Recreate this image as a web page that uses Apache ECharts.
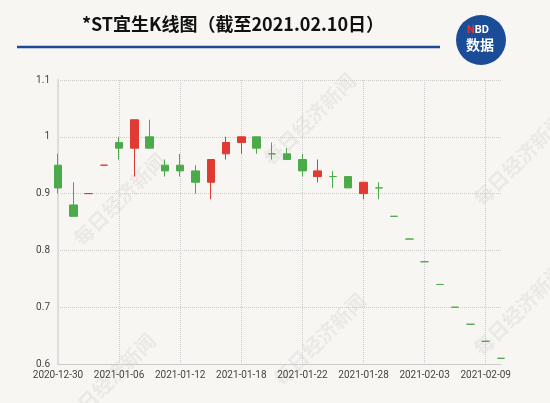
<!DOCTYPE html>
<html>
<head>
<meta charset="utf-8">
<script src="https://cdn.jsdelivr.net/npm/echarts@6/dist/echarts.min.js"></script>
<style>html,body{margin:0;padding:0;background:#f8f6f2;}#main{width:550px;height:403px;}</style>
</head>
<body>
<div id="main"></div>
<script>
var dates = ['2020-12-30','2020-12-31','2021-01-04','2021-01-05','2021-01-06','2021-01-07','2021-01-08','2021-01-11','2021-01-12','2021-01-13','2021-01-14','2021-01-15','2021-01-18','2021-01-19','2021-01-20','2021-01-21','2021-01-22','2021-01-25','2021-01-26','2021-01-27','2021-01-28','2021-01-29','2021-02-01','2021-02-02','2021-02-03','2021-02-04','2021-02-05','2021-02-08','2021-02-09','2021-02-10'];
// open, close, low, high
var opens  = [0.95,0.88,0.90,0.95,0.99,0.98,1.00,0.95,0.95,0.94,0.92,0.97,0.99,1.00,0.97,0.97,0.96,0.93,0.93,0.93,0.90,0.91,0.86,0.82,0.78,0.74,0.70,0.67,0.64,0.61];
var closes = [0.91,0.86,0.90,0.95,0.98,1.03,0.98,0.94,0.94,0.92,0.96,0.99,1.00,0.98,0.97,0.96,0.94,0.94,0.93,0.91,0.92,0.91,0.86,0.82,0.78,0.74,0.70,0.67,0.64,0.61];
var lows   = [0.90,0.86,0.90,0.95,0.96,0.93,0.98,0.93,0.93,0.90,0.89,0.96,0.97,0.97,0.96,0.96,0.93,0.92,0.91,0.91,0.89,0.89,0.86,0.82,0.78,0.74,0.70,0.67,0.64,0.61];
var highs  = [0.97,0.92,0.90,0.95,1.00,1.03,1.03,0.96,0.97,0.95,0.96,1.00,1.00,1.00,0.99,0.98,0.97,0.96,0.94,0.93,0.92,0.92,0.86,0.82,0.78,0.74,0.70,0.67,0.64,0.61];
var yTicks = [0.6, 0.7, 0.8, 0.9, 1, 1.1];

var kData = [];
for (var i = 0; i < dates.length; i++) {
    var up = closes[i] > opens[i] || (closes[i] == opens[i] && i > 0 && closes[i] > closes[i - 1]);
    var c = up ? '#e03a32' : '#4daa4a';
    kData.push({
        value: [opens[i], closes[i], lows[i], highs[i]],
        itemStyle: {color: c, color0: c, borderColor: c, borderColor0: c}
    });
}

var marks = [];
var wpos = [[70, 150], [260, 70], [270, 290], [470, 260], [60, 330], [470, 110]];
for (var k = 0; k < wpos.length; k++) {
    marks.push({
        type: 'text', left: wpos[k][0], top: wpos[k][1], rotation: Math.PI / 4, silent: true,
        style: {text: '每日经济新闻', font: 'bold 20px "Noto Sans CJK SC"', fill: 'rgba(180,180,180,0.18)'}
    });
}
marks.push({type: 'line', shape: {x1: 17, y1: 47, x2: 440, y2: 47}, style: {stroke: '#1c4a98', lineWidth: 2.5}});
marks.push({type: 'circle', shape: {cx: 481, cy: 40, r: 25}, style: {fill: '#1a4c98'}});
marks.push({type: 'text', left: 467, top: 25, style: {rich: {n: {fill: '#e8302a', font: 'bold 11px Roboto'}, b: {fill: '#fff', font: 'bold 11px Roboto'}}, text: '{n|N}{b|BD}'}});
marks.push({type: 'text', left: 466, top: 38, style: {text: '数据', fill: '#fff', font: 'bold 14px "Noto Sans CJK SC"'}});

var chart = echarts.init(document.getElementById('main'));
chart.setOption({
    backgroundColor: '#f8f6f2',
    animation: false,
    title: {
        text: '*ST宜生K线图（截至2021.02.10日）',
        left: 228, top: 10, textAlign: 'center',
        textStyle: {fontFamily: '"Noto Sans CJK SC"', fontSize: 18, fontWeight: 'bold', color: '#111'}
    },
    graphic: marks,
    grid: {left: 58, right: 49, top: 80, bottom: 39},
    xAxis: {
        type: 'category', data: dates, boundaryGap: false,
        axisLine: {lineStyle: {color: '#ccc'}},
        axisTick: {show: false},
        axisLabel: {interval: 3, color: '#444', fontSize: 10, fontFamily: 'Roboto', margin: 6},
        splitLine: {show: true, interval: 3, lineStyle: {color: '#ccc', type: 'dotted'}}
    },
    yAxis: {
        type: 'value', min: 0.6, max: 1.1, interval: 0.1,
        axisLine: {show: true, lineStyle: {color: '#ddd', width: 2}},
        axisTick: {show: false},
        axisLabel: {color: '#444', fontSize: 10, fontFamily: 'Roboto', margin: 8,
            formatter: function (v) { var t = Math.round(v * 10) / 10; return yTicks.indexOf(t) >= 0 ? String(t) : ''; }},
        splitLine: {lineStyle: {color: '#ccc', type: 'dotted'}}
    },
    series: [{
        type: 'candlestick', data: kData, barWidth: 8
    }]
});
</script>
</body>
</html>
